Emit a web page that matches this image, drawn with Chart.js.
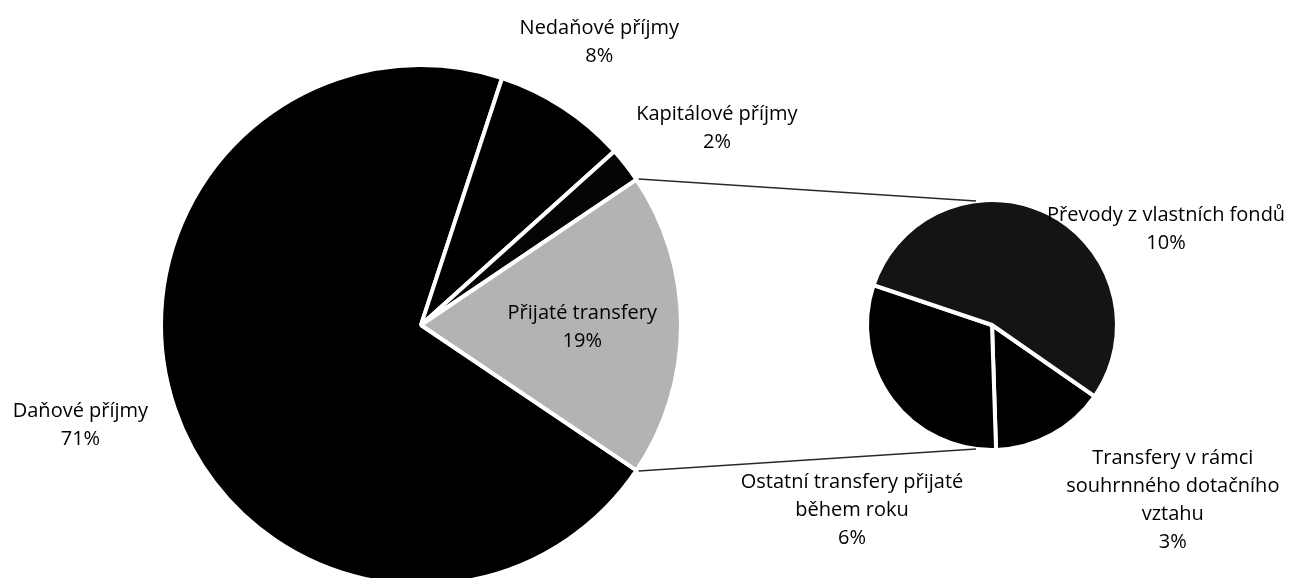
<!DOCTYPE html>
<html>
<head>
<meta charset="utf-8">
<script src="https://cdn.jsdelivr.net/npm/chart.js@4.4.0/dist/chart.umd.min.js"></script>
<style>
html,body{margin:0;padding:0;background:#ffffff;overflow:hidden;width:1301px;height:578px}
#wrap{position:absolute;left:0;top:0;width:1301px;height:600px}
#wrap canvas{position:absolute;left:0;top:0}
</style>
</head>
<body>
<div id="wrap">
  <canvas id="mainPie" width="1301" height="600"></canvas>
  <canvas id="subPie" width="1301" height="600"></canvas>
</div>
<script>
// ---------- DATA ----------
const mainCategories = ["Daňové příjmy", "Nedaňové příjmy", "Kapitálové příjmy", "Přijaté transfery"];
const mainValues = [70.6, 8.3, 2.2, 18.9];
const mainPercentLabels = ["71%", "8%", "2%", "19%"];

const subCategories = ["Transfery v rámci souhrnného dotačního vztahu", "Ostatní transfery přijaté během roku", "Převody z vlastních fondů"];
const subValues = [2.8, 5.8, 10.3];
const subPercentLabels = ["3%", "6%", "10%"];

// ---------- LAYOUT / STYLE ----------
const FONT = '20px "Open Sans", "Noto Sans", sans-serif';
const LINE_H = 28;
const mainColors = ["#000000", "#000000", "#050505", "#b3b3b3"];
const subColors = ["#000000", "#000000", "#141414"];
// label text wrapping (lines) for each slice
const mainLabelLines = [["Daňové příjmy"], ["Nedaňové příjmy"], ["Kapitálové příjmy"], ["Přijaté transfery"]];
const subLabelLines = [["Transfery v rámci", "souhrnného dotačního", "vztahu"], ["Ostatní transfery přijaté", "během roku"], ["Převody z vlastních fondů"]];
// label centre offsets in units of the pie radius
const mainLabelPos = [[-1.320, 0.390], [0.691, -1.097], [1.147, -0.761], [0.625, 0.008]];
const subLabelPos = [[1.470, 1.425], [-1.138, 1.504], [1.415, -0.776]];

// rotation of main pie so the "Přijaté transfery" slice is centred on the right
const mainTotal = mainValues.reduce((a, b) => a + b, 0);
const beforeLast = mainValues.slice(0, 3).reduce((a, b) => a + b, 0);
const mainRotation = 90 - (mainValues[3] / mainTotal) * 180 - (beforeLast / mainTotal) * 360;

function drawLabels(chart, linesArr, pctArr, posArr) {
  const ctx = chart.ctx;
  const meta = chart.getDatasetMeta(0);
  ctx.save();
  ctx.font = FONT;
  ctx.fillStyle = "#000000";
  ctx.textAlign = "center";
  ctx.textBaseline = "middle";
  meta.data.forEach((arc, i) => {
    const R = arc.outerRadius - 2;
    const cx = arc.x + posArr[i][0] * R;
    const cy = arc.y + posArr[i][1] * R;
    const lines = linesArr[i].concat([pctArr[i]]);
    const top = cy - (lines.length - 1) * LINE_H / 2;
    lines.forEach((t, k) => ctx.fillText(t, cx, top + k * LINE_H));
  });
  ctx.restore();
}

let mainChart = null;

const mainLabelPlugin = {
  id: "mainLabels",
  afterDatasetsDraw(chart) { drawLabels(chart, mainLabelLines, mainPercentLabels, mainLabelPos); }
};

const subPlugin = {
  id: "subLabels",
  afterDatasetsDraw(chart) {
    drawLabels(chart, subLabelLines, subPercentLabels, subLabelPos);
    if (!mainChart) return;
    const g = mainChart.getDatasetMeta(0).data[3];
    const s = chart.getDatasetMeta(0).data[0];
    const R = g.outerRadius - 1;
    const r2 = s.outerRadius - 2;
    const ctx = chart.ctx;
    ctx.save();
    ctx.strokeStyle = "#2a2a2a";
    ctx.lineWidth = 1.5;
    ctx.beginPath();
    ctx.moveTo(g.x + R * Math.cos(g.startAngle) + 3, g.y + R * Math.sin(g.startAngle) - 1);
    ctx.lineTo(s.x - 16, s.y - r2 - 1);
    ctx.moveTo(g.x + R * Math.cos(g.endAngle) + 3, g.y + R * Math.sin(g.endAngle) + 1);
    ctx.lineTo(s.x - 16, s.y + r2 + 1);
    ctx.stroke();
    ctx.restore();
  }
};

function build() {
  mainChart = new Chart(document.getElementById("mainPie"), {
    type: "pie",
    data: {
      labels: mainCategories,
      datasets: [{
        data: mainValues,
        backgroundColor: mainColors,
        borderColor: "#ffffff",
        borderWidth: 4,
        radius: 260
      }]
    },
    options: {
      responsive: false,
      animation: false,
      rotation: mainRotation,
      layout: { padding: { left: 161, right: 620, top: 65, bottom: 15 } },
      plugins: { legend: { display: false }, tooltip: { enabled: false } }
    },
    plugins: [mainLabelPlugin]
  });

  new Chart(document.getElementById("subPie"), {
    type: "pie",
    data: {
      labels: subCategories,
      datasets: [{
        data: subValues,
        backgroundColor: subColors,
        borderColor: "#ffffff",
        borderWidth: 4,
        radius: 125
      }]
    },
    options: {
      responsive: false,
      animation: false,
      rotation: 124.8,
      layout: { padding: { left: 869, right: 186, top: 202, bottom: 152 } },
      plugins: { legend: { display: false }, tooltip: { enabled: false } }
    },
    plugins: [subPlugin]
  });
}

if (document.fonts && document.fonts.load) {
  document.fonts.load(FONT).then(build, build);
} else {
  build();
}
</script>
</body>
</html>
